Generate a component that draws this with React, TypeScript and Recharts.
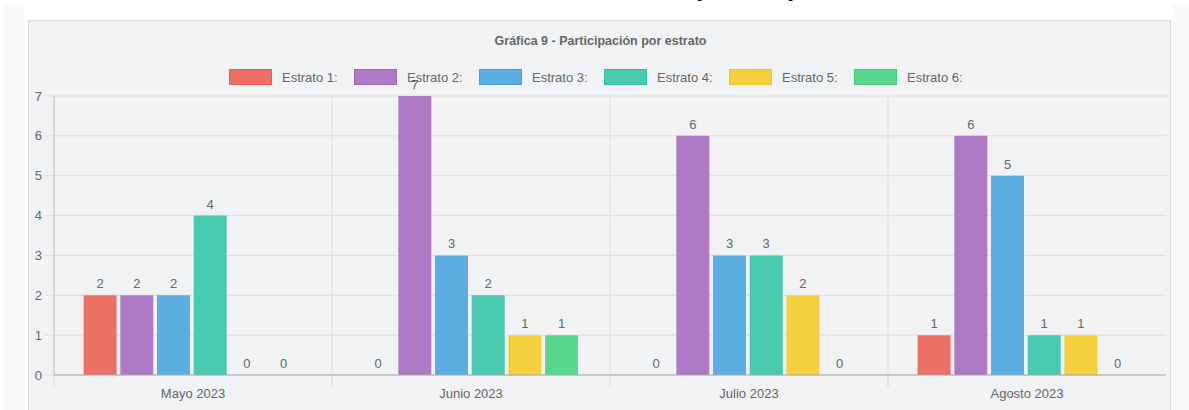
import React from "react";
import { BarChart, Bar, XAxis, YAxis, CartesianGrid, LabelList } from "recharts";

const months = ["Mayo 2023", "Junio 2023", "Julio 2023", "Agosto 2023"];
const estrato1 = [2, 0, 0, 1];
const estrato2 = [2, 7, 6, 6];
const estrato3 = [2, 3, 3, 5];
const estrato4 = [4, 2, 3, 1];
const estrato5 = [0, 1, 2, 1];
const estrato6 = [0, 1, 0, 0];
const yTicks = [0, 1, 2, 3, 4, 5, 6, 7];

const series = [
  { key: "e1", name: "Estrato 1:", values: estrato1, color: "#ec7063", border: "#e35d50" },
  { key: "e2", name: "Estrato 2:", values: estrato2, color: "#af7ac5", border: "#a066b8" },
  { key: "e3", name: "Estrato 3:", values: estrato3, color: "#5dade2", border: "#4a9fd8" },
  { key: "e4", name: "Estrato 4:", values: estrato4, color: "#48c9b0", border: "#39b9a0" },
  { key: "e5", name: "Estrato 5:", values: estrato5, color: "#f4d03f", border: "#f0c030" },
  { key: "e6", name: "Estrato 6:", values: estrato6, color: "#58d68d", border: "#45c87a" },
];

const data = months.map((m, i) => {
  const row: Record<string, string | number> = { month: m };
  series.forEach((s) => {
    row[s.key] = s.values[i];
  });
  return row;
});

const FONT = "'Liberation Sans', Arial, sans-serif";
const TXT = "#666";

function MonthTick(props: any) {
  const { x, y, payload } = props;
  const half = payload?.offset ?? (props.width ? props.width / months.length / 2 : 139);
  const bx = x - half;
  return (
    <g>
      <line x1={bx} y1={y - 8} x2={bx} y2={y + 4} stroke="#d4d4d4" />
      <text x={x} y={y + 15} textAnchor="middle" fill={TXT} fontSize={13} fontFamily={FONT}>
        {payload.value}
      </text>
    </g>
  );
}

export default function App() {
  return (
    <div style={{ position: "absolute", left: 0, top: 0, width: 1189, height: 410, background: "#fff", overflow: "hidden", fontFamily: FONT }}>
      <div style={{ position: "absolute", left: 4, top: 5, width: 20, height: 405, background: "#f9f9f9" }} />
      <div style={{ position: "absolute", left: 1173, top: 5, width: 16, height: 405, background: "#f9f9f9" }} />
      <div
        style={{
          position: "absolute",
          left: 482,
          top: -26,
          fontSize: 26,
          lineHeight: "26px",
          fontWeight: 700,
          color: "#111",
          whiteSpace: "nowrap",
        }}
      >
        Gráfica 9 - Participación por estrato
      </div>
      <div
        style={{
          position: "absolute",
          left: 28,
          top: 20,
          width: 1141,
          height: 400,
          background: "#f1f2f4",
          border: "1px solid #dcdcdc",
        }}
      >
        <div
          style={{
            position: "absolute",
            left: 0,
            top: 13,
            width: 1143,
            textAlign: "center",
            fontSize: 12.5,
            fontWeight: 700,
            color: TXT,
          }}
        >
          Gráfica 9 - Participación por estrato
        </div>
        <div style={{ position: "absolute", left: 200, top: 48, display: "flex", alignItems: "center" }}>
          {series.map((s) => (
            <div key={s.key} style={{ display: "flex", alignItems: "center", width: 125 }}>
              <div
                style={{
                  width: 41,
                  height: 14,
                  background: s.color,
                  border: `1px solid ${s.border}`,
                  marginRight: 10,
                }}
              />
              <span style={{ fontSize: 13, color: TXT, whiteSpace: "nowrap" }}>{s.name}</span>
            </div>
          ))}
        </div>
        <div style={{ position: "absolute", left: 0, top: 0 }}>
          <BarChart
            width={1141}
            height={395}
            data={data}
            margin={{ top: 75, right: 4, left: 0, bottom: 11 }}
            barCategoryGap={29.6}
            barGap={3.7}
          >
            <CartesianGrid
              stroke="#dedede"
              verticalCoordinatesGenerator={({ offset }: any) =>
                months.map((_, i) => offset.left + (i * offset.width) / months.length)
              }
            />
            <XAxis
              dataKey="month"
              tick={<MonthTick />}
              tickLine={false}
              axisLine={{ stroke: "#a9a9a9" }}
              height={30}
              interval={0}
            />
            <YAxis
              domain={[0, 7]}
              ticks={yTicks}
              width={25}
              tickSize={9}
              tickMargin={3}
              axisLine={{ stroke: "#c8c8c8" }}
              tickLine={{ stroke: "#dedede" }}
              tick={{ fill: TXT, fontSize: 13, fontFamily: FONT }}
            />
            {series.map((s) => (
              <Bar key={s.key} dataKey={s.key} fill={s.color} minPointSize={0.01} isAnimationActive={false}>
                <LabelList dataKey={s.key} position="top" offset={7} fill={TXT} fontSize={13} fontFamily={FONT} />
              </Bar>
            ))}
          </BarChart>
        </div>
      </div>
    </div>
  );
}
